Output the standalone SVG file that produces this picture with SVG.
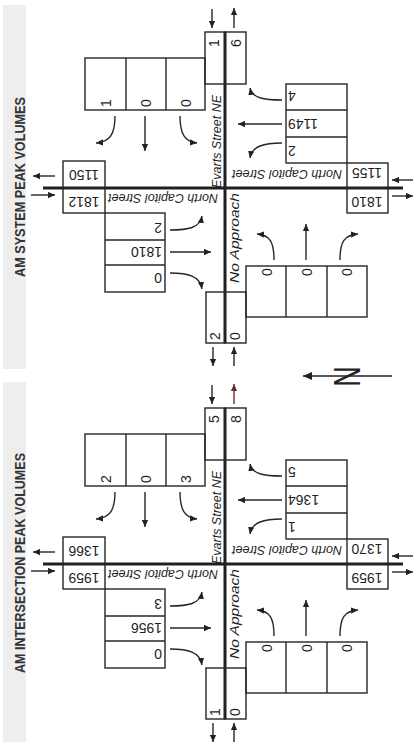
<svg xmlns="http://www.w3.org/2000/svg" width="417" height="752" viewBox="0 0 417 752">
<defs>
<marker id="ah" viewBox="0 0 10 10" refX="10" refY="5" markerWidth="7" markerHeight="7" markerUnits="userSpaceOnUse" orient="auto"><path d="M0,0.5 L10,5 L0,9.5 z" fill="#222"/></marker>
<marker id="ahr" viewBox="0 0 10 10" refX="10" refY="5" markerWidth="7" markerHeight="7" markerUnits="userSpaceOnUse" orient="auto"><path d="M0,0.5 L10,5 L0,9.5 z" fill="#6a3030"/></marker>
<marker id="ahN" viewBox="0 0 10 10" refX="10" refY="5" markerWidth="10" markerHeight="9" markerUnits="userSpaceOnUse" orient="auto"><path d="M0,0.5 L10,5 L0,9.5 z" fill="#222"/></marker>
</defs>
<style>
.bx{fill:none;stroke:#262626;stroke-width:1.4}
.rd{fill:none;stroke:#1f1f1f;stroke-width:3}
.ar{fill:none;stroke:#262626;stroke-width:1.4;marker-end:url(#ah)}
.arr{fill:none;stroke:#6a3030;stroke-width:1.4;marker-end:url(#ahr)}
.n{font-family:"Liberation Sans",Arial,sans-serif;font-size:14px;fill:#1f1f1f}
.lb{font-family:"Liberation Sans",Arial,sans-serif;font-size:12.5px;font-style:italic;fill:#1f1f1f}
.tt{font-family:"Liberation Sans",Arial,sans-serif;font-size:15px;font-weight:bold;fill:#333}
.m{text-anchor:middle}
.e{text-anchor:end}
</style>
<rect x="3" y="5" width="23" height="364" fill="#eeeeee"/>
<rect x="3" y="382" width="23" height="360" fill="#eeeeee"/>
<g id="titles">
<text class="tt" x="25" y="277" textLength="180" lengthAdjust="spacingAndGlyphs" transform="rotate(-90 25 277)">AM SYSTEM PEAK VOLUMES</text>
<text class="tt" x="25" y="673" textLength="220" lengthAdjust="spacingAndGlyphs" transform="rotate(-90 25 673)">AM INTERSECTION PEAK VOLUMES</text>
</g>

<!-- SYSTEM PANEL -->
<g id="system-panel">
<g id="s-roads">
<line class="rd" x1="43" y1="188" x2="403" y2="188"/>
<line class="rd" x1="225" y1="32" x2="225" y2="343"/>
</g>
<g id="s-labels">
<text class="lb" x="221" y="188" textLength="93" lengthAdjust="spacingAndGlyphs" transform="rotate(-90 221 188)">Evarts Street NE</text>
<text class="lb" x="239" y="283" textLength="90" lengthAdjust="spacingAndGlyphs" transform="rotate(-90 239 283)">No Approach</text>
<text class="lb" x="218" y="194" textLength="110" lengthAdjust="spacingAndGlyphs" transform="rotate(180 218 194)">North Capitol Street</text>
<text class="lb" x="342" y="170" textLength="110" lengthAdjust="spacingAndGlyphs" transform="rotate(180 342 170)">North Capitol Street</text>
</g>
<g id="s-top-approach">
<rect class="bx" x="85" y="58" width="120" height="52"/>
<line class="bx" x1="126" y1="58" x2="126" y2="110"/>
<line class="bx" x1="166" y1="58" x2="166" y2="110"/>
<text class="n m" x="110.5" y="103" transform="rotate(-90 110.5 103)">1</text>
<text class="n m" x="151" y="103" transform="rotate(-90 151 103)">0</text>
<text class="n m" x="190.5" y="103" transform="rotate(-90 190.5 103)">0</text>
</g>
<g id="s-evarts-top">
<rect class="bx" x="205" y="32" width="20" height="52"/>
<rect class="bx" x="225" y="32" width="21" height="52"/>
<text class="n m" x="219" y="43" transform="rotate(-90 219 43)">1</text>
<text class="n m" x="240.5" y="43" transform="rotate(-90 240.5 43)">6</text>
</g>
<g id="s-evarts-bottom">
<rect class="bx" x="206" y="292" width="19" height="51"/>
<rect class="bx" x="225" y="292" width="21" height="51"/>
<text class="n m" x="220" y="336" transform="rotate(-90 220 336)">2</text>
<text class="n m" x="240" y="336" transform="rotate(-90 240 336)">0</text>
</g>
<g id="s-bottom-approach">
<rect class="bx" x="246" y="266" width="121" height="51"/>
<line class="bx" x1="286" y1="266" x2="286" y2="317"/>
<line class="bx" x1="327" y1="266" x2="327" y2="317"/>
<text class="n m" x="271.5" y="272" transform="rotate(-90 271.5 272)">0</text>
<text class="n m" x="311.5" y="272" transform="rotate(-90 311.5 272)">0</text>
<text class="n m" x="352" y="272" transform="rotate(-90 352 272)">0</text>
</g>
<g id="s-left-volumes">
<rect class="bx" x="63" y="161" width="42" height="27"/>
<rect class="bx" x="63" y="188" width="42" height="25"/>
<text class="n m" x="84" y="170" transform="rotate(180 84 170)">1150</text>
<text class="n m" x="84" y="197" transform="rotate(180 84 197)">1812</text>
</g>
<g id="s-left-lanes">
<rect class="bx" x="105" y="213" width="60" height="79"/>
<line class="bx" x1="105" y1="240" x2="165" y2="240"/>
<line class="bx" x1="105" y1="265" x2="165" y2="265"/>
<text class="n" x="162" y="223" transform="rotate(180 162 223)">2</text>
<text class="n" x="162" y="247" transform="rotate(180 162 247)">1810</text>
<text class="n" x="162" y="273" transform="rotate(180 162 273)">0</text>
</g>
<g id="s-right-lanes">
<rect class="bx" x="286" y="84" width="61" height="79"/>
<line class="bx" x1="286" y1="110" x2="347" y2="110"/>
<line class="bx" x1="286" y1="137" x2="347" y2="137"/>
<text class="n e" x="288" y="91" transform="rotate(180 288 91)">4</text>
<text class="n e" x="288" y="119" transform="rotate(180 288 119)">1149</text>
<text class="n e" x="288" y="146" transform="rotate(180 288 146)">2</text>
</g>
<g id="s-right-volumes">
<rect class="bx" x="347" y="163" width="41" height="25"/>
<rect class="bx" x="347" y="188" width="41" height="25"/>
<text class="n m" x="367" y="168" transform="rotate(180 367 168)">1155</text>
<text class="n m" x="367" y="197" transform="rotate(180 367 197)">1810</text>
</g>
<g id="s-connectors">
<path class="ar" d="M55,176 L33,176"/>
<path class="ar" d="M31,195 L55,195"/>
<path class="ar" d="M413,180 L392,180"/>
<path class="ar" d="M392,196 L413,196"/>
<path class="ar" d="M212,9 L212,28"/>
<path class="ar" d="M234,28 L234,8"/>
<path class="ar" d="M213,347 L213,366"/>
<path class="ar" d="M234,366 L234,347"/>
<path class="ar" d="M115,116 C115,134 110,142 96,143"/>
<path class="ar" d="M145,116 L145,151"/>
<path class="ar" d="M180,116 C180,134 185,142 197,143"/>
<path class="ar" d="M170,230 C188,230 200,228 202,216"/>
<path class="ar" d="M170,252 L211,252"/>
<path class="ar" d="M170,273 C188,273 200,276 202,289"/>
<path class="ar" d="M282,100 C264,100 252,98 250,88"/>
<path class="ar" d="M282,124 L238,124"/>
<path class="ar" d="M282,143 C264,143 252,146 250,158"/>
<path class="ar" d="M274,260 C274,242 270,235 257,234"/>
<path class="ar" d="M306,260 L306,224"/>
<path class="ar" d="M340,260 C340,242 344,235 358,234"/>
</g>
</g>

<g id="north-arrow">
<path fill="none" stroke="#222" stroke-width="1.6" marker-end="url(#ahN)" d="M392,376 L303,376"/>
<text x="360" y="376.5" text-anchor="middle" font-family="Liberation Sans, Arial, sans-serif" font-size="37" fill="#222" textLength="21" lengthAdjust="spacingAndGlyphs" transform="rotate(-90 360 376.5)">N</text>
</g>

<!-- INTERSECTION PANEL -->
<g id="intersection-panel" transform="translate(0,376)">
<g id="i-roads">
<line class="rd" x1="43" y1="188" x2="403" y2="188"/>
<line class="rd" x1="225" y1="32" x2="225" y2="343"/>
</g>
<g id="i-labels">
<text class="lb" x="221" y="188" textLength="93" lengthAdjust="spacingAndGlyphs" transform="rotate(-90 221 188)">Evarts Street NE</text>
<text class="lb" x="239" y="283" textLength="90" lengthAdjust="spacingAndGlyphs" transform="rotate(-90 239 283)">No Approach</text>
<text class="lb" x="218" y="194" textLength="110" lengthAdjust="spacingAndGlyphs" transform="rotate(180 218 194)">North Capitol Street</text>
<text class="lb" x="342" y="170" textLength="110" lengthAdjust="spacingAndGlyphs" transform="rotate(180 342 170)">North Capitol Street</text>
</g>
<g id="i-top-approach">
<rect class="bx" x="85" y="58" width="120" height="52"/>
<line class="bx" x1="126" y1="58" x2="126" y2="110"/>
<line class="bx" x1="166" y1="58" x2="166" y2="110"/>
<text class="n m" x="110.5" y="103" transform="rotate(-90 110.5 103)">2</text>
<text class="n m" x="151" y="103" transform="rotate(-90 151 103)">0</text>
<text class="n m" x="190.5" y="103" transform="rotate(-90 190.5 103)">3</text>
</g>
<g id="i-evarts-top">
<rect class="bx" x="205" y="32" width="20" height="52"/>
<rect class="bx" x="225" y="32" width="21" height="52"/>
<text class="n m" x="219" y="43" transform="rotate(-90 219 43)">5</text>
<text class="n m" x="240.5" y="43" transform="rotate(-90 240.5 43)">8</text>
</g>
<g id="i-evarts-bottom">
<rect class="bx" x="206" y="292" width="19" height="51"/>
<rect class="bx" x="225" y="292" width="21" height="51"/>
<text class="n m" x="220" y="336" transform="rotate(-90 220 336)">1</text>
<text class="n m" x="240" y="336" transform="rotate(-90 240 336)">0</text>
</g>
<g id="i-bottom-approach">
<rect class="bx" x="246" y="266" width="121" height="51"/>
<line class="bx" x1="286" y1="266" x2="286" y2="317"/>
<line class="bx" x1="327" y1="266" x2="327" y2="317"/>
<text class="n m" x="271.5" y="272" transform="rotate(-90 271.5 272)">0</text>
<text class="n m" x="311.5" y="272" transform="rotate(-90 311.5 272)">0</text>
<text class="n m" x="352" y="272" transform="rotate(-90 352 272)">0</text>
</g>
<g id="i-left-volumes">
<rect class="bx" x="63" y="161" width="42" height="27"/>
<rect class="bx" x="63" y="188" width="42" height="25"/>
<text class="n m" x="84" y="170" transform="rotate(180 84 170)">1366</text>
<text class="n m" x="84" y="197" transform="rotate(180 84 197)">1959</text>
</g>
<g id="i-left-lanes">
<rect class="bx" x="105" y="213" width="60" height="79"/>
<line class="bx" x1="105" y1="240" x2="165" y2="240"/>
<line class="bx" x1="105" y1="265" x2="165" y2="265"/>
<text class="n" x="162" y="223" transform="rotate(180 162 223)">3</text>
<text class="n" x="162" y="247" transform="rotate(180 162 247)">1956</text>
<text class="n" x="162" y="273" transform="rotate(180 162 273)">0</text>
</g>
<g id="i-right-lanes">
<rect class="bx" x="286" y="84" width="61" height="79"/>
<line class="bx" x1="286" y1="110" x2="347" y2="110"/>
<line class="bx" x1="286" y1="137" x2="347" y2="137"/>
<text class="n e" x="288" y="91" transform="rotate(180 288 91)">5</text>
<text class="n e" x="288" y="119" transform="rotate(180 288 119)">1364</text>
<text class="n e" x="288" y="146" transform="rotate(180 288 146)">1</text>
</g>
<g id="i-right-volumes">
<rect class="bx" x="347" y="163" width="41" height="25"/>
<rect class="bx" x="347" y="188" width="41" height="25"/>
<text class="n m" x="367" y="168" transform="rotate(180 367 168)">1370</text>
<text class="n m" x="367" y="197" transform="rotate(180 367 197)">1959</text>
</g>
<g id="i-connectors">
<path class="ar" d="M55,176 L33,176"/>
<path class="ar" d="M31,195 L55,195"/>
<path class="ar" d="M413,180 L392,180"/>
<path class="ar" d="M392,196 L413,196"/>
<path class="ar" d="M212,9 L212,28"/>
<path class="arr" d="M234,28 L234,8"/>
<path class="ar" d="M213,347 L213,366"/>
<path class="ar" d="M234,366 L234,347"/>
<path class="ar" d="M115,116 C115,134 110,142 96,143"/>
<path class="ar" d="M145,116 L145,151"/>
<path class="ar" d="M180,116 C180,134 185,142 197,143"/>
<path class="ar" d="M170,230 C188,230 200,228 202,216"/>
<path class="ar" d="M170,252 L211,252"/>
<path class="ar" d="M170,273 C188,273 200,276 202,289"/>
<path class="ar" d="M282,100 C264,100 252,98 250,88"/>
<path class="ar" d="M282,124 L238,124"/>
<path class="ar" d="M282,143 C264,143 252,146 250,158"/>
<path class="ar" d="M274,260 C274,242 270,235 257,234"/>
<path class="ar" d="M306,260 L306,224"/>
<path class="ar" d="M340,260 C340,242 344,235 358,234"/>
</g>
</g>
</svg>
